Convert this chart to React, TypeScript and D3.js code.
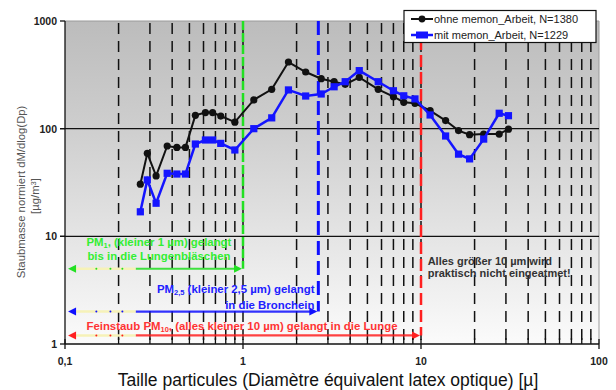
import React from 'react';
import * as d3 from 'd3';

// particle size channels (µm)
const sizes = [0.265, 0.29, 0.325, 0.375, 0.425, 0.475, 0.54, 0.615, 0.675, 0.75, 0.9, 1.15, 1.45, 1.8, 2.25, 2.75, 3.25, 3.75, 4.5, 5.75, 7, 8, 9.25, 11.25, 13.75, 16.25, 18.75, 22.5, 27.5, 31];
const ohneMemon = [30.5, 59, 36.4, 69, 67, 67, 133, 141, 141, 131, 115, 185, 232, 416, 336, 291, 273, 258, 300, 232, 198, 176, 172, 147, 119, 96, 88, 89, 89, 99];
const mitMemon = [16.9, 33.4, 20.3, 38.5, 37.9, 37.9, 72, 78.5, 78.5, 73, 63.4, 100, 126, 229, 201, 210, 245, 273, 346, 273, 225, 202, 189, 134, 85.5, 58, 52.4, 80, 139, 132];

const seriesNames = ['ohne memon_Arbeit, N=1380', 'mit memon_Arbeit, N=1229'];

const xMajor = [0.1, 1, 10, 100];
const xTickLabels = ['0,1', '1', '10', '100'];
const yMajor = [1, 10, 100, 1000];
const yTickLabels = ['1', '10', '100', '1000'];

// size limits: PM1, PM2.5, PM10 with the height of their arrows
const limitSizes = [1, 2.65, 10];
const limitArrowY = [5, 2, 1.2];
const limitColors = ['#22e022', '#1010ff', '#ff2020'];

const W = 616;
const H = 390;
const font = 'Liberation Sans, Arial, sans-serif';

export default function App() {
  const x = d3.scaleLog().domain([0.1, 100]).range([65, 599]);
  const y = d3.scaleLog().domain([1, 1000]).range([344, 21]);
  const [x0, x1] = x.range();
  const [yb, yt] = y.range();

  const grid = x.ticks().filter((t) => !xMajor.includes(t) || t === 1 || t === 10);
  const minor = x.ticks().filter((t) => !xMajor.includes(t));

  const line = d3
    .line<number>()
    .x((d, i) => x(sizes[i]))
    .y((d) => y(d));

  const arrowStart = 0.104;
  const paleEnd = 0.25;

  const arrow = (xe: number, ye: number, color: string, key: string) => {
    const ax0 = x(arrowStart);
    const ax1 = x(xe) - 1;
    const py = y(ye);
    const pe = x(paleEnd);
    const dots = [0.15, 0.18, 0.21];
    return (
      <g key={key}>
        <line x1={ax0 + 6} x2={pe} y1={py} y2={py} stroke="#f6f2b8" strokeWidth={2.5} />
        {dots.map((d) => (
          <circle key={d} cx={x(d)} cy={py} r={1} fill={color} />
        ))}
        <line x1={pe} x2={ax1 - 6} y1={py} y2={py} stroke={color} strokeWidth={2.2} opacity={0.85} />
        <path d={`M${ax0},${py} l8,-4 l0,8 z`} fill={color} />
        <path d={`M${ax1},${py} l-8,-4 l0,8 z`} fill={color} />
      </g>
    );
  };

  return (
    <svg width={W} height={H} style={{ position: 'absolute', left: 0, top: 0, background: '#fff' }}>
      <defs>
        <linearGradient id="bg" x1="0" y1="0" x2="0" y2="1">
          <stop offset="0" stopColor="#bcbcbc" />
          <stop offset="0.33" stopColor="#cecece" />
          <stop offset="0.66" stopColor="#e4e4e4" />
          <stop offset="1" stopColor="#fbfbfb" />
        </linearGradient>
      </defs>
      <rect x={x0} y={yt} width={x1 - x0} height={yb - yt} fill="url(#bg)" />
      <line x1={x0} x2={x1} y1={yt} y2={yt} stroke="#9a9a9a" />
      <line x1={x1} x2={x1} y1={yt} y2={yb} stroke="#9a9a9a" />

      {/* dashed vertical grid */}
      {grid.map((t) => (
        <line key={t} x1={x(t)} x2={x(t)} y1={yt + 2} y2={yb} stroke="#111" strokeWidth={1.5} strokeDasharray="11 7" />
      ))}
      {/* horizontal decades */}
      {[10, 100].map((v) => (
        <line key={v} x1={x0 - 5} x2={x1} y1={y(v)} y2={y(v)} stroke="#111" strokeWidth={1.3} />
      ))}

      {/* limit lines */}
      {limitSizes.map((s, i) => (
        <line
          key={s}
          x1={x(s)}
          x2={x(s)}
          y1={yt}
          y2={y(limitArrowY[i])}
          stroke={limitColors[i]}
          strokeWidth={i === 1 ? 3 : 2.5}
          strokeDasharray={i === 0 ? '9 3' : i === 1 ? '14 6' : '12 5'}
        />
      ))}
      {limitSizes.map((s, i) => arrow(s, limitArrowY[i], limitColors[i], 'a' + i))}

      {/* annotations */}
      <g fontFamily={font} fontSize={11.4} fontWeight="bold">
        <text x={x(0.337)} y={y(8.1)} textAnchor="middle" fill="#33ee33">
          PM<tspan fontSize={7.5} dy={2}>1</tspan>
          <tspan dy={-2}>, (kleiner 1 µm) gelangt</tspan>
        </text>
        <text x={x(0.337)} y={y(6.0)} textAnchor="middle" fill="#33ee33">
          bis in die Lungenbläschen
        </text>
        <text x={x(2.52)} y={y(3.0)} textAnchor="end" fill="#2020ff">
          PM<tspan fontSize={7.5} dy={2}>2,5</tspan>
          <tspan dy={-2}> (kleiner 2,5 µm) gelangt</tspan>
        </text>
        <text x={x(2.52)} y={y(2.1)} textAnchor="end" fill="#2020ff">
          in die Bronchein
        </text>
        <text x={x(0.132)} y={y(1.36)} fill="#ff3333">
          Feinstaub PM<tspan fontSize={7.5} dy={2}>10</tspan>
          <tspan dy={-2}>, (alles kleiner 10 µm) gelangt in die Lunge</tspan>
        </text>
      </g>
      <g fontFamily={font} fontSize={11} fontWeight="bold" fill="#333">
        <text x={x(10.9)} y={y(5.45)}>Alles größer 10 µm wird</text>
        <text x={x(10.9)} y={y(4.2)}>praktisch nicht eingeatmet!</text>
      </g>

      {/* series */}
      <path d={line(ohneMemon) ?? ''} fill="none" stroke="#111" strokeWidth={2} />
      {ohneMemon.map((v, i) => (
        <circle key={i} cx={x(sizes[i])} cy={y(v)} r={3.6} fill="#111" />
      ))}
      <path d={line(mitMemon) ?? ''} fill="none" stroke="#1414ff" strokeWidth={2.5} />
      {mitMemon.map((v, i) => (
        <rect key={i} x={x(sizes[i]) - 3.6} y={y(v) - 3.6} width={7.2} height={7.2} fill="#1414ff" />
      ))}

      {/* axes */}
      <line x1={x0} x2={x0} y1={yt} y2={yb} stroke="#111" strokeWidth={1.3} />
      <line x1={x0} x2={x1} y1={yb} y2={yb} stroke="#111" strokeWidth={1.3} />
      {yMajor.map((v, i) => (
        <g key={v}>
          <line x1={x0 - 5} x2={x0} y1={y(v)} y2={y(v)} stroke="#111" strokeWidth={1.3} />
          <text x={x0 - 8} y={y(v) + 4} textAnchor="end" fontFamily={font} fontSize={10.5} fontWeight="bold" fill="#222">
            {yTickLabels[i]}
          </text>
        </g>
      ))}
      {xMajor.map((v, i) => (
        <g key={v}>
          <line x1={x(v)} x2={x(v)} y1={yb - 5} y2={yb + 5} stroke="#111" strokeWidth={1.3} />
          <text x={x(v)} y={yb + 21} textAnchor="middle" fontFamily={font} fontSize={10.5} fontWeight="bold" fill="#222">
            {xTickLabels[i]}
          </text>
        </g>
      ))}
      {minor.map((t) => (
        <line key={t} x1={x(t)} x2={x(t)} y1={yb - 6} y2={yb} stroke="#111" strokeWidth={1.3} />
      ))}

      <text x={328} y={386} textAnchor="middle" fontFamily={font} fontSize={17.5} fill="#111">
        Taille particules (Diamètre équivalent latex optique) [µ]
      </text>
      <g fontFamily={font} fontSize={11.3} fill="#555" textAnchor="middle">
        <text transform="translate(25,192) rotate(-90)">Staubmasse normiert dM/dlog(Dp)</text>
        <text transform="translate(39,196) rotate(-90)">
          [µg/m<tspan fontSize={7.5} dy={-3}>3</tspan>
          <tspan dy={3}>]</tspan>
        </text>
      </g>

      {/* legend */}
      <rect x={404} y={10.5} width={192} height={32} fill="#fff" stroke="#111" strokeWidth={1.2} />
      <line x1={411} x2={433} y1={19} y2={19} stroke="#111" strokeWidth={2} />
      <circle cx={422} cy={19} r={3.4} fill="#111" />
      <line x1={411} x2={433} y1={35} y2={35} stroke="#1414ff" strokeWidth={2.5} />
      <rect x={416} y={31.5} width={12} height={7} fill="#1414ff" />
      <g fontFamily={font} fontSize={11} fill="#222">
        <text x={434} y={23}>{seriesNames[0]}</text>
        <text x={434} y={39}>{seriesNames[1]}</text>
      </g>
    </svg>
  );
}
